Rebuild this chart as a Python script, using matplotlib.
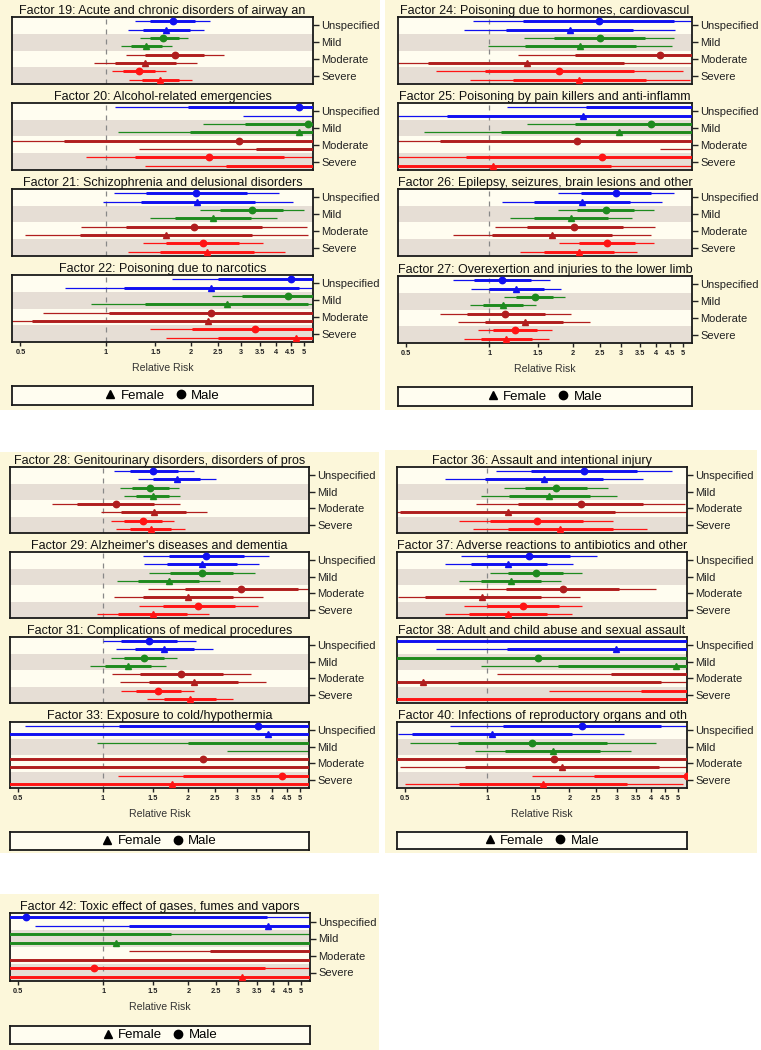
import matplotlib
matplotlib.use('Agg')
import matplotlib.pyplot as plt
from matplotlib.lines import Line2D
from matplotlib.patches import Rectangle
from matplotlib.ticker import NullLocator

plt.rcParams['font.family'] = ['Liberation Sans', 'DejaVu Sans']

# panel titles (truncated as in the source)
titles = [
    'Factor 19: Acute and chronic disorders of airway an',
    'Factor 20: Alcohol-related emergencies',
    'Factor 21: Schizophrenia and delusional disorders',
    'Factor 22: Poisoning due to narcotics',
    'Factor 24: Poisoning due to hormones, cardiovascul',
    'Factor 25: Poisoning by pain killers and anti-inflamm',
    'Factor 26: Epilepsy, seizures, brain lesions and other',
    'Factor 27: Overexertion and injuries to the lower limb',
    "Factor 28: Genitourinary disorders, disorders of pros",
    "Factor 29: Alzheimer's diseases and dementia",
    'Factor 31: Complications of medical procedures',
    'Factor 33: Exposure to cold/hypothermia',
    'Factor 36: Assault and intentional injury',
    'Factor 37: Adverse reactions to antibiotics and other',
    'Factor 38: Adult and child abuse and sexual assault',
    'Factor 40: Infections of reproductory organs and oth',
    'Factor 42: Toxic effect of gases, fumes and vapors',
]

severity = ['Unspecified', 'Mild', 'Moderate', 'Severe']
# rows per panel: male/female for each severity level
# point estimates
rr = [
    [1.73, 1.63, 1.60, 1.39, 1.76, 1.38, 1.31, 1.56],
    [4.83, 6.5, 5.2, 4.83, 2.97, 6.0, 2.32, 6.0],
    [2.09, 2.11, 3.28, 2.39, 2.05, 1.64, 2.20, 2.28],
    [4.50, 2.35, 4.40, 2.68, 2.35, 2.29, 3.37, 4.69],
    [2.48, 1.96, 2.50, 2.13, 4.14, 1.37, 1.79, 2.11],
    [6.5, 2.17, 3.84, 2.95, 2.07, 8.0, 2.55, 1.03],
    [2.88, 2.16, 2.63, 1.97, 2.03, 1.69, 2.67, 2.10],
    [1.11, 1.25, 1.46, 1.12, 1.14, 1.34, 1.24, 1.15],
    [1.51, 1.83, 1.47, 1.50, 1.11, 1.52, 1.39, 1.48],
    [2.33, 2.24, 2.24, 1.71, 3.10, 2.01, 2.18, 1.51],
    [1.46, 1.65, 1.40, 1.23, 1.90, 2.10, 1.57, 2.04],
    [3.57, 3.85, 6.5, 8.0, 2.27, 7.0, 4.33, 1.76],
    [2.27, 1.61, 1.79, 1.69, 2.21, 1.19, 1.52, 1.85],
    [1.42, 1.19, 1.51, 1.22, 1.89, 0.96, 1.35, 1.19],
    [8.0, 2.97, 1.54, 4.93, 7.0, 0.58, 7.0, 0.35],
    [2.22, 1.04, 1.46, 1.74, 1.76, 1.88, 5.40, 1.60],
    [0.53, 3.84, 0.35, 1.11, 7.0, 7.0, 0.93, 3.10],
]
# inner interval (thick)
in_lo = [
    [1.44, 1.36, 1.43, 1.23, 1.38, 1.08, 1.15, 1.34],
    [1.96, 5.8, 3.1, 1.99, 0.71, 3.4, 1.27, 2.66],
    [1.39, 1.33, 2.54, 1.76, 1.18, 0.81, 1.64, 1.55],
    [2.50, 1.16, 3.04, 1.38, 1.03, 0.55, 2.02, 2.49],
    [1.32, 1.15, 1.71, 1.34, 2.04, 0.60, 0.96, 1.22],
    [2.23, 0.70, 2.04, 1.10, 0.66, 6.0, 0.82, 0.3],
    [2.14, 1.45, 2.07, 1.45, 1.37, 1.02, 2.10, 1.57],
    [0.88, 1.00, 1.25, 0.95, 0.83, 0.96, 1.03, 0.93],
    [1.25, 1.51, 1.27, 1.31, 0.81, 1.16, 1.19, 1.25],
    [1.72, 1.69, 1.73, 1.33, 1.96, 1.39, 1.63, 1.13],
    [1.16, 1.30, 1.19, 1.02, 1.35, 1.46, 1.31, 1.65],
    [1.14, 0.3, 2.01, 6.0, 0.3, 0.3, 1.93, 0.3],
    [1.45, 0.98, 1.38, 1.20, 1.30, 0.48, 1.02, 1.19],
    [1.00, 0.87, 1.19, 0.95, 1.17, 0.59, 1.00, 0.86],
    [0.3, 1.18, 0.3, 1.82, 2.84, 0.3, 3.67, 0.3],
    [1.14, 0.53, 0.78, 1.16, 0.3, 0.83, 2.47, 0.79],
    [0.3, 1.23, 0.3, 0.3, 2.38, 0.3, 0.3, 0.3],
]
in_hi = [
    [2.07, 1.98, 1.82, 1.58, 2.23, 1.77, 1.49, 1.82],
    [8, 9, 8, 8, 8, 9, 4.25, 9],
    [3.15, 3.37, 4.22, 3.26, 3.56, 3.30, 2.97, 3.33],
    [8, 4.83, 8, 5.17, 9, 9, 8, 8],
    [4.64, 3.30, 3.65, 3.38, 8, 3.07, 3.34, 3.67],
    [12, 12, 12, 12, 12, 12, 12, 2.75],
    [3.83, 3.23, 3.34, 2.68, 3.03, 2.78, 3.36, 2.83],
    [1.41, 1.57, 1.70, 1.32, 1.59, 1.85, 1.49, 1.42],
    [1.85, 2.21, 1.71, 1.71, 1.52, 1.97, 1.62, 1.75],
    [3.18, 2.99, 2.91, 2.20, 4.93, 2.91, 2.94, 1.99],
    [1.84, 2.10, 1.65, 1.48, 2.68, 3.01, 1.89, 2.53],
    [12, 12, 12, 12, 12, 12, 12, 12],
    [3.55, 2.66, 2.33, 2.38, 3.74, 2.95, 2.24, 2.88],
    [2.01, 1.65, 1.90, 1.58, 3.03, 1.58, 1.83, 1.65],
    [12, 12, 12, 12, 12, 4.34, 12, 12],
    [4.34, 2.04, 2.74, 2.59, 12, 4.26, 12, 3.26],
    [3.79, 12, 1.74, 12, 12, 12, 3.74, 12],
]
# outer interval (thin)
out_lo = [
    [1.27, 1.20, 1.32, 1.13, 1.18, 0.91, 1.05, 1.21],
    [1.08, 3.05, 2.2, 1.11, 0.3, 1.31, 0.855, 1.38],
    [1.07, 0.98, 2.16, 1.44, 0.82, 0.52, 1.35, 1.20],
    [1.71, 0.72, 2.38, 0.89, 0.60, 0.3, 1.43, 1.63],
    [0.87, 0.81, 1.33, 0.99, 1.27, 0.3, 0.64, 0.85],
    [1.16, 0.3, 1.37, 0.58, 0.3, 4.12, 0.3, 0.3],
    [1.77, 1.11, 1.77, 1.19, 1.05, 0.74, 1.79, 1.29],
    [0.74, 0.86, 1.13, 0.85, 0.66, 0.77, 0.91, 0.81],
    [1.09, 1.33, 1.15, 1.19, 0.66, 0.98, 1.07, 1.11],
    [1.39, 1.40, 1.46, 1.12, 1.45, 1.09, 1.34, 0.95],
    [1.00, 1.11, 1.07, 0.90, 1.08, 1.15, 1.16, 1.43],
    [0.53, 0.3, 0.95, 2.77, 0.3, 0.3, 1.13, 0.3],
    [1.08, 0.70, 1.15, 0.95, 0.91, 0.3, 0.79, 0.89],
    [0.80, 0.70, 1.02, 0.79, 0.86, 0.47, 0.82, 0.70],
    [0.3, 0.65, 0.3, 0.95, 1.09, 0.3, 1.69, 0.3],
    [0.73, 0.47, 0.52, 0.90, 0.3, 0.48, 1.46, 0.50],
    [0.3, 0.575, 0.3, 0.3, 1.23, 0.3, 0.3, 0.3],
]
out_hi = [
    [2.34, 2.23, 1.96, 1.71, 2.61, 2.10, 1.63, 2.02],
    [12, 12, 12, 12, 12, 12, 12, 12],
    [4.10, 4.58, 5.00, 4.02, 5.13, 5.20, 3.61, 4.30],
    [12, 12, 12, 12, 12, 12, 12, 12],
    [6.5, 4.70, 4.66, 4.56, 12, 12, 5.0, 5.3],
    [15, 15, 15, 15, 15, 15, 15, 15],
    [4.65, 4.20, 3.94, 3.28, 3.96, 3.85, 3.93, 3.43],
    [1.65, 1.82, 1.87, 1.47, 1.97, 2.31, 1.69, 1.64],
    [2.11, 2.52, 1.87, 1.88, 1.88, 2.35, 1.79, 1.96],
    [3.90, 3.60, 3.46, 2.61, 6.0, 3.72, 3.56, 2.39],
    [2.14, 2.46, 1.84, 1.67, 3.36, 3.81, 2.11, 2.91],
    [15, 15, 15, 15, 15, 15, 15, 15],
    [4.77, 3.72, 2.78, 2.99, 5.30, 12, 2.90, 3.86],
    [2.52, 2.06, 2.22, 1.87, 4.17, 2.19, 2.22, 2.04],
    [15, 15, 15, 15, 15, 15, 15, 15],
    [6.5, 3.16, 4.14, 3.37, 15, 6.5, 15, 5.20],
    [15, 15, 15, 15, 15, 15, 15, 15],
]

xticks = [0.5, 1, 1.5, 2, 2.5, 3, 3.5, 4, 4.5, 5]
xtick_labels = ['0.5', '1', '1.5', '2', '2.5', '3', '3.5', '4', '4.5', '5']

colors = ['#1010f0', '#1e8a1e', '#b01e1e', '#ff1414']
BG = '#fcf7da'
BAND_LIGHT = '#fffdf0'
BAND_DARK = '#e6ded5'
W, H = 761, 1050

fig = plt.figure(figsize=(W / 100, H / 100), dpi=100, facecolor='white')


def px_axes(x0, y0, x1, y1):
    return fig.add_axes([x0 / W, 1 - y1 / H, (x1 - x0) / W, (y1 - y0) / H])


def group_bg(x0, y0, x1, y1):
    fig.add_artist(Rectangle((x0 / W, 1 - y1 / H), (x1 - x0) / W, (y1 - y0) / H,
                             transform=fig.transFigure, facecolor=BG,
                             edgecolor='none', zorder=-5))


def forest(ax, k, bottom):
    ax.set_xscale('log')
    for b in range(4):
        ax.axhspan(2 * b, 2 * b + 2, color=BAND_LIGHT if b % 2 == 0 else BAND_DARK,
                   lw=0, zorder=0)
    ax.axvline(1, color='#888888', lw=0.9, dashes=(4, 4), zorder=1)
    for i in range(8):
        c = colors[i // 2]
        y = i + 0.5
        ax.plot([out_lo[k][i], out_hi[k][i]], [y, y], color=c, lw=0.9,
                solid_capstyle='butt', zorder=2)
        ax.plot([in_lo[k][i], in_hi[k][i]], [y, y], color=c, lw=2.1,
                solid_capstyle='butt', zorder=3)
        ax.plot([rr[k][i]], [y], marker='o' if i % 2 == 0 else '^', ms=4.6,
                color=c, zorder=4)
    ax.set_xlim(0.467, 5.4)
    ax.set_ylim(8, 0)
    ax.yaxis.tick_right()
    ax.set_yticks([1, 3, 5, 7])
    ax.set_yticklabels(severity)
    ax.tick_params(axis='y', length=4, width=1, labelsize=8, pad=2,
                   colors='#222222')
    ax.xaxis.set_minor_locator(NullLocator())
    if bottom:
        ax.set_xticks(xticks)
        ax.set_xticklabels(xtick_labels, fontsize=5.3, fontweight='bold')
        ax.tick_params(axis='x', length=3, width=1, pad=2, colors='#222222')
        ax.set_xlabel('Relative Risk', fontsize=7.6, color='#333333', labelpad=5)
    else:
        ax.set_xticks([])
    for s in ax.spines.values():
        s.set_linewidth(1.3)
        s.set_color('#1a1a1a')
    ax.set_title(titles[k], fontsize=9, pad=2.5, color='#111111')


def legend_box(x0, y0, x1, y1):
    lax = px_axes(x0, y0, x1, y1)
    lax.set_facecolor(BAND_LIGHT)
    lax.set_xticks([])
    lax.set_yticks([])
    for s in lax.spines.values():
        s.set_linewidth(1.3)
        s.set_color('#1a1a1a')
    handles = [Line2D([], [], color='black', marker='^', ls='none', ms=6),
               Line2D([], [], color='black', marker='o', ls='none', ms=6)]
    lax.legend(handles, ['Female', 'Male'], loc='center', ncol=2, frameon=False,
               fontsize=9.5, handlelength=0.8, handletextpad=0.4,
               columnspacing=0.8, borderpad=0)


# top-left group: factors 19-22
group_bg(0, 0, 380, 410)
for j, top in enumerate([17, 103, 189, 275]):
    forest(px_axes(12, top, 313, top + 67), j, j == 3)
legend_box(12, 386, 313, 405)

# top-right group: factors 24-27
group_bg(385, 0, 761, 410)
for j, top in enumerate([17, 103, 189, 276]):
    forest(px_axes(398, top, 692, top + 67), 4 + j, j == 3)
legend_box(398, 387, 692, 406)

# bottom-left group: factors 28-33
group_bg(0, 452, 379, 853)
for j, top in enumerate([467, 552, 637, 722]):
    forest(px_axes(10, top, 309, top + 66), 8 + j, j == 3)
legend_box(10, 832, 309, 850)

# bottom-right group: factors 36-40
group_bg(385, 450, 757, 853)
for j, top in enumerate([467, 552, 637, 722]):
    forest(px_axes(397, top, 687, top + 66), 12 + j, j == 3)
legend_box(397, 832, 687, 849)

# last group: factor 42
group_bg(0, 894, 379, 1050)
forest(px_axes(10, 913, 310, 981), 16, True)
legend_box(10, 1026, 310, 1044)

fig.savefig('out.png', dpi=100, facecolor='white')
